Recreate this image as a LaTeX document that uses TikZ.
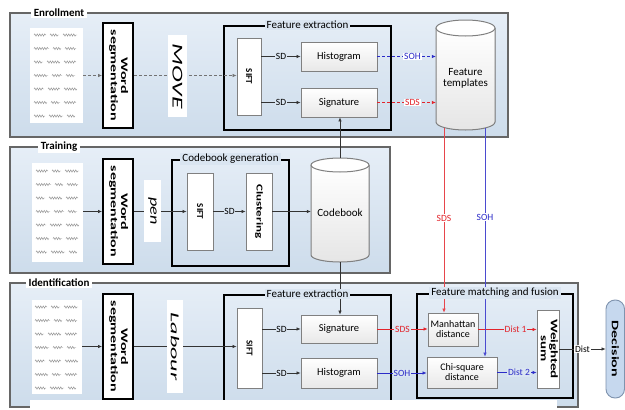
\documentclass[tikz,border=0pt]{standalone}
\usepackage{fontspec}
\usepackage{graphicx}
\setmainfont{Carlito}
\usetikzlibrary{fit,arrows.meta,decorations.pathmorphing}
\definecolor{panelA}{HTML}{E6EEF7}
\definecolor{panelB}{HTML}{CDDCEB}
\definecolor{panelbg}{HTML}{DAE5F1}
\definecolor{sdsred}{HTML}{E3242B}
\definecolor{sohblue}{HTML}{2B2BC8}
\definecolor{decfill}{HTML}{C6D8EE}
\definecolor{decline}{HTML}{7F93AE}
\newcommand{\myfs}[1]{\fontsize{#1}{#1}\selectfont}
\newcommand{\scribbles}[2]{%
 \foreach \li/\sa/\sb/\sc in {0/12/9/14,1/15/8/11,2/9/13/12,3/14/10/9,4/10/12/13,5/13/9/12,6/11/14/8}{%
   \draw[scrib] (#1+4,#2+7+13.5*\li) -- ++(\sa,0);
   \draw[scrib] (#1+8+\sa,#2+7+13.5*\li) -- ++(\sb,0);
   \draw[scrib] (#1+12+\sa+\sb,#2+7+13.5*\li) -- ++(\sc,0);
 }}
\newcommand{\twolines}[2]{\begin{tabular}{@{}c@{}}#1\\#2\end{tabular}}
\begin{document}
\begin{tikzpicture}[x=1pt,y=-1pt,
  panel/.style={draw=black!60, line width=1.3pt, top color=panelA, bottom color=panelB, inner sep=0pt},
  ptitle/.style={fill=white, font=\bfseries\myfs{11}, inner xsep=3pt, inner ysep=1pt},
  grp/.style={draw=black, line width=2.2pt, inner sep=0pt},
  gtitle/.style={fill=panelbg, font=\myfs{11}, inner xsep=2pt, inner ysep=1pt},
  hw/.style={fill=white, inner sep=0pt},
  scrib/.style={draw=black!45, line width=0.45pt, decorate, decoration={snake, amplitude=1.1pt, segment length=2.5pt}},
  wsbox/.style={draw=black, line width=2pt, fill=white, inner sep=0pt},
  sbox/.style={draw=black!50, line width=0.9pt, fill=white, inner sep=0pt},
  ibox/.style={draw=black!50, line width=0.9pt, top color=white, bottom color=black!9, inner sep=0pt},
  wimg/.style={fill=white, inner sep=0pt},
  con/.style={draw=black!80, line width=0.7pt, -{Latex[length=4pt,width=3.6pt]}},
  dcon/.style={con, draw=black!55, dash pattern=on 3pt off 2pt},
  lab/.style={fill=panelbg, font=\myfs{9.5}, inner sep=0.8pt},
  btext/.style={font=\myfs{10.5}, align=center},
  rtext/.style={rotate=-90, font=\bfseries\myfs{9}},
  wstext/.style={rotate=-90, font=\bfseries\myfs{10}},
  cyl/.style={draw=black!50, line width=1pt}
]
\useasboundingbox (0,0) rectangle (625,410);
\fill[white] (0,0) rectangle (625,410);

% panels
\node[panel, fit={(10,13)(508,137)}] (enr) {};
\node[panel, fit={(10,147)(390,273)}] (trn) {};
\node[panel, fit={(10,283)(578,407)}] (idn) {};
\node[ptitle] (enrT) at (59,13) {Enrollment};
\node[ptitle] (trnT) at (59,147) {Training};
\node[ptitle] (idnT) at (59,283) {Identification};

% handwriting samples
\node[hw, fit={(30,28)(83,123)}] (hwE) {};
\node[hw, fit={(32,163)(83,262)}] (hwT) {};
\node[hw, fit={(32,300)(82,394)}] (hwI) {};
\scribbles{30}{28}
\scribbles{32}{164}
\scribbles{31}{300}

% group boxes
\node[grp, fit={(224,26)(391,130)}] (feE) {};
\node[grp, fit={(172,160)(289,266)}] (cg) {};
\node[grp, fit={(224,295)(391,403)}] (feI) {};
\node[grp, fit={(417,294)(573,398)}] (fm) {};

% cylinder: feature templates
\fill[top color=white, bottom color=black!10] (436,28) -- (436,122) arc[start angle=180,end angle=360,x radius=29.5pt,y radius=8pt] -- (495,28) -- cycle;
\draw[cyl] (436,28) -- (436,122) arc[start angle=180,end angle=360,x radius=29.5pt,y radius=8pt] -- (495,28);
\draw[cyl, fill=white] (465.5,28) ellipse [x radius=29.5pt, y radius=8pt];
\node[inner sep=0pt, fit={(436,20)(495,130)}] (ft) {};
\node[btext, font=\myfs{11}] (ftT) at (465.5,78) {Feature\\templates};

% cylinder: codebook
\fill[top color=white, bottom color=black!10] (311,165) -- (311,255) arc[start angle=180,end angle=360,x radius=29pt,y radius=7pt] -- (369,165) -- cycle;
\draw[cyl] (311,165) -- (311,255) arc[start angle=180,end angle=360,x radius=29pt,y radius=7pt] -- (369,165);
\draw[cyl, fill=white] (340,165) ellipse [x radius=29pt, y radius=7pt];
\node[inner sep=0pt, fit={(311,158)(369,262)}] (cb) {};
\node[btext, font=\myfs{11}] (cbT) at (340,213) {Codebook};

% word segmentation
\node[wsbox, fit={(103,23)(133,128)}, label={[wstext]center:\scalebox{1.6}[1]{\twolines{Word}{segmentation}}}] (wsE) {};
\node[wsbox, fit={(103,159)(133,264)}, label={[wstext]center:\scalebox{1.6}[1]{\twolines{Word}{segmentation}}}] (wsT) {};
\node[wsbox, fit={(103,294)(133,399)}, label={[wstext]center:\scalebox{1.6}[1]{\twolines{Word}{segmentation}}}] (wsI) {};

% enrollment boxes
\node[sbox, fit={(237,38)(261,115)}, label={[rtext]center:SIFT}] (siftE) {};
\node[ibox, fit={(301,42)(377,71)}, label={[btext]center:Histogram}] (histE) {};
\node[ibox, fit={(301,88)(377,117)}, label={[btext]center:Signature}] (sigE) {};

% training boxes
\node[sbox, fit={(187,173)(213,250)}, label={[rtext]center:SIFT}] (siftT) {};
\node[sbox, fit={(246,173)(272,250)}, label={[rtext]center:\scalebox{1.45}[1]{Clustering}}] (clT) {};

% identification boxes
\node[sbox, fit={(237,308)(262,388)}, label={[rtext]center:SIFT}] (siftI) {};
\node[ibox, fit={(301,315)(377,343)}, label={[btext]center:Signature}] (sigI) {};
\node[ibox, fit={(301,358)(377,388)}, label={[btext]center:Histogram}] (histI) {};
\node[ibox, fit={(428,313)(478,346)}, label={[btext,font=\myfs{10}]center:Manhattan\\distance}] (manh) {};
\node[ibox, fit={(427,357)(497,388)}, label={[btext,font=\myfs{10}]center:Chi-square\\distance}] (chi) {};
\node[sbox, fit={(537,310)(559,388)}, label={[rtext,font=\bfseries\myfs{10}]center:\scalebox{1.5}[1]{\twolines{Weighted}{sum}}}] (wsum) {};
\node[draw=decline, line width=0.9pt, fill=decfill, rounded corners=9pt, inner sep=0pt, fit={(606,300)(624.5,398)}, label={[rtext,font=\bfseries\myfs{10}]center:\scalebox{1.6}[1]{Decision}}] (dec) {};

% enrollment connectors
\draw[dcon] (hwE.east |- wsE) -- (wsE.west);
\draw[dcon] (wsE.east) -- (wsE.east -| siftE.west);
\draw[con] (siftE.east |- histE) -- node[lab]{SD} (histE.west);
\draw[con] (siftE.east |- sigE) -- node[lab]{SD} (sigE.west);
\draw[dcon, draw=sohblue] (histE.east) -- node[lab, fill=white, text=sohblue, pos=0.6]{SOH} (histE.east -| ft.west);
\draw[dcon, draw=sdsred] (sigE.east) -- node[lab, fill=white, text=sdsred, pos=0.6]{SDS} (sigE.east -| ft.west);

% training connectors
\draw[con] (hwT.east |- wsT) -- (wsT.west);
\draw[con] (wsT.east) -- (wsT.east -| siftT.west);
\draw[con] (siftT.east) -- node[lab]{SD} (clT.west);
\draw[con] (clT.east) -- (clT.east -| cb.west);
\draw[con] (cb.north) -- (cb.north |- sigE.south);
\draw[con] (cb.south) -- (cb.south |- sigI.north);

% identification connectors
\draw[con] (hwI.east |- wsI) -- (wsI.west);
\draw[con] (wsI.east) -- (wsI.east -| siftI.west);
\draw[con] (siftI.east |- sigI) -- node[lab]{SD} (sigI.west);
\draw[con] (siftI.east |- histI) -- node[lab]{SD} (histI.west);
\draw[con, draw=sdsred] (sigI.east) -- node[lab, text=sdsred]{SDS} (sigI.east -| manh.west);
\draw[con, draw=sohblue] (histI.east) -- node[lab, text=sohblue]{SOH} (histI.east -| chi.west);
\draw[con, draw=sdsred] (manh.east) -- node[lab, text=sdsred, pos=0.64]{Dist 1} (manh.east -| wsum.west);
\draw[con, draw=sohblue] (chi.east) -- node[lab, text=sohblue, pos=0.55]{Dist 2} (chi.east -| wsum.west);
\draw[con] (wsum.east) -- node[lab, fill=white]{Dist} (wsum.east -| dec.west);

% templates to matching
\coordinate (sdsTop) at ([xshift=-21.5pt,yshift=2.5pt]ft.south);
\coordinate (sohTop) at ([xshift=19.5pt,yshift=2pt]ft.south);
\draw[con, draw=sdsred!85, line width=0.6pt] (sdsTop) -- node[lab, fill=white, text=sdsred, pos=0.49]{SDS} (sdsTop |- manh.north);
\draw[con, draw=sohblue!85, line width=0.6pt] (sohTop) -- node[lab, fill=white, text=sohblue, pos=0.39]{SOH} (sohTop |- chi.north);

% word images
\node[wimg, fit={(168,35)(187,117)}, label={[rotate=-90, font=\itshape\myfs{15}]center:\scalebox{1.7}[1]{MOVE}}] (wiE) {};
\node[wimg, fit={(144,180)(161,242)}, label={[rotate=-90, font=\itshape\myfs{13}]center:\scalebox{1.4}[1]{pen}}] (wiT) {};
\node[wimg, fit={(167,300)(183,393)}, label={[rotate=-90, font=\itshape\myfs{12}]center:\scalebox{2}[1]{Labour}}] (wiI) {};

% group titles
\node[gtitle] (feET) at (feE.north) {Feature extraction};
\node[gtitle] (cgT) at (cg.north) {Codebook generation};
\node[gtitle] (feIT) at (feI.north) {Feature extraction};
\node[gtitle] (fmT) at (fm.north) {Feature matching and fusion};

% bottom cut
\fill[white] (30,400) rectangle (557,410);
\end{tikzpicture}
\end{document}
